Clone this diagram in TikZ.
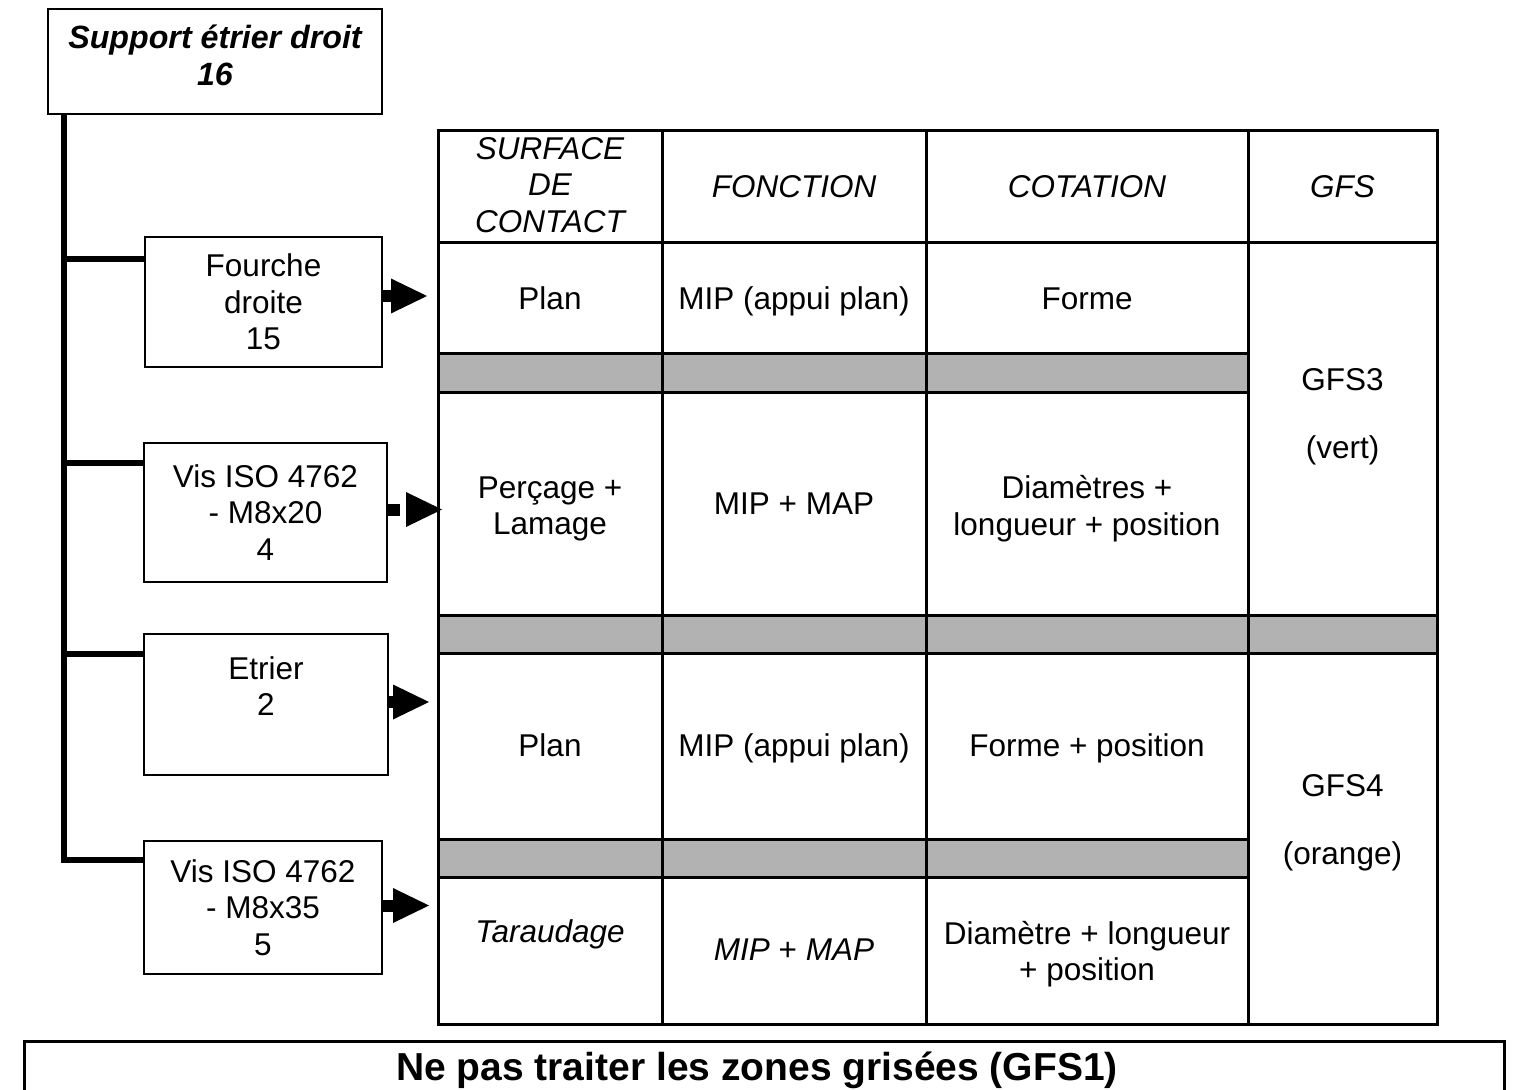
\documentclass[tikz,border=0pt]{standalone}
\usepackage{fontspec}
\setmainfont{Liberation Sans}
\usetikzlibrary{arrows.meta}
\newcommand\myfs{\fontsize{15.75}{18.25}\selectfont}
\newcommand\mytopfs{\fontsize{16.1}{18.5}\selectfont}
\newcommand\mybigfs{\fontsize{19.5}{23}\selectfont}
\begin{document}
\begin{tikzpicture}[x=0.5pt,y=-0.5pt,
  box/.style={draw, line width=1pt, inner sep=0pt, align=center, font=\myfs},
  cell/.style={inner sep=0pt, align=center, font=\myfs},
  one/.style={cell, text height=11.25pt, text depth=3.3pt},
  trunk/.style={line width=3.2pt, line join=miter},
  stem/.style={line width=6pt},
  conn/.style={line width=6pt, -{Triangle[length=18pt,width=17.5pt,line width=0pt]}},
  headonly/.style={line width=0.2pt, -{Triangle[length=18pt,width=17.5pt,line width=0pt]}},
  grid/.style={line width=1.5pt},
  greyzone/.style={fill=gray!60}]
\useasboundingbox (0,0) rectangle (1513,1090);

% ---------- left tree ----------
\node[box, minimum width=167pt, minimum height=52.5pt, font=\mytopfs\bfseries\itshape] (top) at (215,61.5) {Support étrier droit\\16\\[-12pt]\mbox{}};
\node[box, minimum width=118.5pt, minimum height=65pt] (fourche) at (263.5,302) {Fourche\\droite\\15};
\node[box, minimum width=121.5pt, minimum height=69.5pt] (vis1) at (265.5,512.5) {Vis ISO 4762\\- M8x20\\4};
\node[box, minimum width=122pt, minimum height=70.5pt] (etrier) at (266,704.5) {Etrier\\2\\~};
\node[box, minimum width=119pt, minimum height=66.5pt] (vis2) at (263,907.5) {Vis ISO 4762\\- M8x35\\5};

\coordinate (tx) at (64,0);
\coordinate (b1) at ([yshift=-11.5pt]fourche.north west);
\coordinate (b2) at ([yshift=-10.5pt]vis1.north west);
\coordinate (b3) at ([yshift=-10.5pt]etrier.north west);
\coordinate (b4) at ([yshift=-10pt]vis2.north west);
\draw[trunk] (top.south -| tx) |- (b4);
\draw[trunk] (tx |- b1) -- (b1);
\draw[trunk] (tx |- b2) -- (b2);
\draw[trunk] (tx |- b3) -- (b3);

% ---------- table ----------
\fill[greyzone] (438,354) rectangle (1248,393);
\fill[greyzone] (438,615) rectangle (1437,653);
\fill[greyzone] (438,839) rectangle (1248,877);
\draw[grid] (438,131) rectangle (1437,1024);
\draw[grid] (662,131) -- (662,1024);
\draw[grid] (926,131) -- (926,1024);
\draw[grid] (1248,131) -- (1248,1024);
\draw[grid] (438,243) -- (1437,243);
\draw[grid] (438,354) -- (1248,354);
\draw[grid] (438,393) -- (1248,393);
\draw[grid] (438,615) -- (1437,615);
\draw[grid] (438,653) -- (1437,653);
\draw[grid] (438,839) -- (1248,839);
\draw[grid] (438,877) -- (1248,877);

% header
\node[cell, font=\myfs\itshape] (h1) at (550,185) {SURFACE\\DE\\CONTACT};
\node[one, font=\myfs\itshape] (h2) at (794,190) {FONCTION};
\node[one, font=\myfs\itshape] (h3) at (1087,190) {COTATION};
\node[one, font=\myfs\itshape] (h4) at (1342.5,190) {GFS};
% row 1
\node[one] (r1a) at (550,302) {Plan};
\node[one] (r1b) at (794,302) {MIP (appui plan)};
\node[one] (r1c) at (1087,302) {Forme};
% row 2
\node[cell] (r2a) at (550,509) {Perçage +\\Lamage};
\node[one] (r2b) at (794,507) {MIP + MAP};
\node[cell] (r2c) at (1087,508.5) {Diamètres +\\longueur + position};
% GFS
\node[cell] (g3) at (1342.5,417) {GFS3\\[16pt](vert)};
\node[cell] (g4) at (1342.5,823) {GFS4\\[16pt](orange)};
% row 3
\node[one] (r3a) at (550,749) {Plan};
\node[one] (r3b) at (794,749) {MIP (appui plan)};
\node[one] (r3c) at (1087,749) {Forme + position};
% row 4
\node[one, font=\myfs\itshape] (r4a) at (550,935) {Taraudage};
\node[one] (r4b) at (794,953) {\textit{MIP} + \textit{MAP}};
\node[cell] (r4c) at (1087,954) {Diamètre + longueur\\+ position};

% ---------- arrows ----------
\coordinate (a1) at (427,296);
\coordinate (a2s) at (406,509.5);
\coordinate (a2) at (442,509.5);
\coordinate (a3) at (429,702);
\coordinate (a4) at (429,905.5);
\draw[conn] ([yshift=3pt]fourche.east) -- (a1);
\draw[stem] ([yshift=1.5pt]vis1.east) -- ++(12,0);
\draw[headonly] (a2s) -- (a2);
\draw[conn] ([yshift=1.25pt]etrier.east) -- (a3);
\draw[conn] ([yshift=1pt]vis2.east) -- (a4);

% ---------- note ----------
\draw[grid] (24,1041) rectangle (1504,1100);
\node[anchor=base, inner sep=0pt, font=\mybigfs\bfseries] (note) at (757,1080) {Ne pas traiter les zones grisées (GFS1)};
\end{tikzpicture}
\end{document}
